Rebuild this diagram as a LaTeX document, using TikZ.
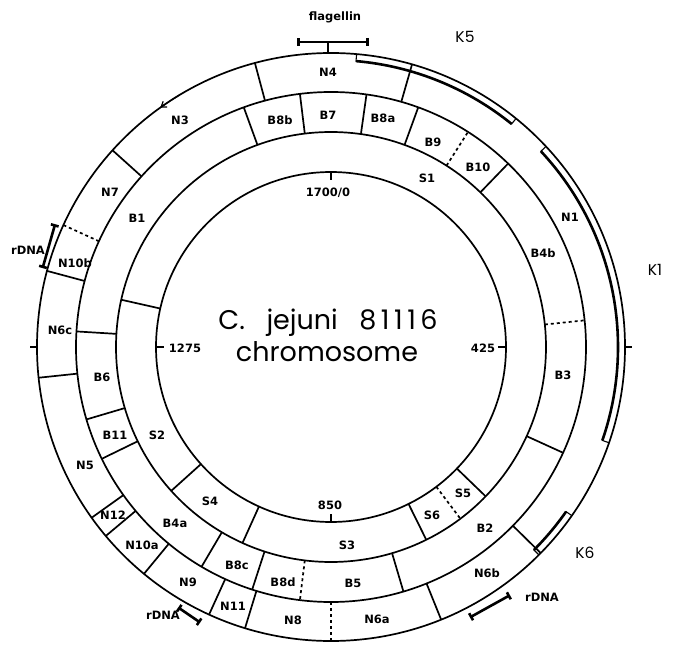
\documentclass[tikz,border=0pt]{standalone}
\usepackage{fontspec}
\setmainfont{DejaVu Sans}
\newfontfamily\titlefont{Poppins}
\usetikzlibrary{arrows.meta}

\begin{document}
\begin{tikzpicture}[x=1pt, y=1pt, line width=1.7pt,
    every node/.style={font=\bfseries\fontsize{11.5}{13}\selectfont, inner sep=0pt},
    gap/.style={dash pattern=on 3pt off 3pt},
    band/.style={line width=1.1pt},
    bandedge/.style={line width=2.6pt},
    bracket/.style={line width=2.6pt, {Bar[width=8pt]}-{Bar[width=8pt]}},
    title/.style={font=\titlefont\fontsize{27}{31}\selectfont},
    klabel/.style={font=\titlefont\fontsize{15.5}{18}\selectfont}]

  \useasboundingbox (-331,-298) rectangle (346,347);

  % the four rings
  \draw (0,0) circle[radius=175];
  \draw (0,0) circle[radius=215];
  \draw (0,0) circle[radius=255];
  \draw (0,0) circle[radius=294];

  % fragment boundaries, outer ring
  \foreach \a in {105,74,-44.5,-68,-107,-114.5,-129.5,-140,-144.5,-174,165,138}
    \draw (\a:255) -- (\a:294);
  \foreach \a in {155.5,-90}
    \draw[gap] (\a:255) -- (\a:294);
  % middle ring
  \foreach \a in {110,97,82,70,46,-24.5,-73.5,-108,-120.5,-154,-163.5,176.5}
    \draw (\a:215) -- (\a:255);
  \foreach \a in {57.5,6,-97}
    \draw[gap] (\a:215) -- (\a:255);
  % inner ring
  \foreach \a in {167.3,-44,-63.7,-114.3,-138}
    \draw (\a:175) -- (\a:215);
  \draw[gap] (-53:175) -- (-53:215);

  % scale ticks
  \foreach \a in {0,90,180,270}
    \draw (\a:175) -- (\a:167);
  \draw (0:294) -- (0:301);
  \draw (180:294) -- (180:301);

  % K bands
  \draw[band] (85:294) -- (85:287) arc[start angle=85, end angle=51, radius=287] -- (51:294);
  \draw[bandedge] (85:287) arc[start angle=85, end angle=51, radius=287];
  \draw[band] (43:294) -- (43:287) arc[start angle=43, end angle=-19, radius=287] -- (-19:294);
  \draw[bandedge] (43:287) arc[start angle=43, end angle=-19, radius=287];
  \draw[band] (-35:294) -- (-35:287) arc[start angle=-35, end angle=-45, radius=287] -- (-45:294);
  \draw[bandedge] (-35:287) arc[start angle=-35, end angle=-45, radius=287];

  % direction mark
  \draw[-{Straight Barb[length=5pt, width=7pt]}, line width=1.2pt] (121:294) arc[start angle=121, end angle=125.5, radius=294];

  % gene brackets
  \draw[bracket] (-34,305) -- (38,305);
  \draw[line width=2.4pt] (-3,305) -- (-3,294);
  \draw[bracket] (156:302) -- (164.7:299);
  \draw[bracket] (-120.4:302) -- (-115.4:305);
  \draw[bracket] (-62.8:304) -- (-54.2:306);

  % outer ring labels
  \node (n4)   at (-3,275)    {N4};
  \node (n3)   at (-151,227)  {N3};
  \node (n7)   at (-221,155)  {N7};
  \node (n10b) at (-256,84)   {N10b};
  \node (n6c)  at (-271,17)   {N6c};
  \node (n5)   at (-246,-118) {N5};
  \node (n12)  at (-218,-168) {N12};
  \node (n10a) at (-189,-198) {N10a};
  \node (n9)   at (-143,-235) {N9};
  \node (n11)  at (-98,-259)  {N11};
  \node (n8)   at (-38,-273)  {N8};
  \node (n6a)  at (46,-272)   {N6a};
  \node (n6b)  at (156,-226)  {N6b};
  \node (n1)   at (239,130)   {N1};

  % middle ring labels
  \node (b8b) at (-51,227)   {B8b};
  \node (b7)  at (-3,232)    {B7};
  \node (b8a) at (52,229)    {B8a};
  \node (b9)  at (102,205)   {B9};
  \node (b10) at (147,180)   {B10};
  \node (b4b) at (212,94)    {B4b};
  \node (b3)  at (232,-28)   {B3};
  \node (b2)  at (154,-181)  {B2};
  \node (b5)  at (22,-236)   {B5};
  \node (b8d) at (-48,-235)  {B8d};
  \node (b8c) at (-94,-218)  {B8c};
  \node (b4a) at (-156,-176) {B4a};
  \node (b11) at (-216,-88)  {B11};
  \node (b6)  at (-229,-30)  {B6};
  \node (b1)  at (-194,129)  {B1};

  % inner ring labels
  \node (s1) at (96,169)    {S1};
  \node (s2) at (-174,-88)  {S2};
  \node (s4) at (-121,-154) {S4};
  \node (s3) at (16,-198)   {S3};
  \node (s6) at (101,-168)  {S6};
  \node (s5) at (132,-146)  {S5};

  % scale
  \node (k0)    at (-3,154)   {1700/0};
  \node (k425)  at (152,-1)   {425};
  \node (k1275) at (-146,-1)  {1275};
  \node (k850)  at (-1,-158)  {850};

  \node[title] (name) at (-3,24) {C.\hspace{0.8em}jejuni\hspace{0.8em}8\,1\,1\,1\,6};
  \node[title] (chr)  at (-4,-5) {chromosome};

  \node[klabel] (k5) at (134,310) {K5};
  \node[klabel] (k1) at (324,77)  {K1};
  \node[klabel] (k6) at (254,-206) {K6};

  \node (flag)  at (4,330)     {flagellin};
  \node (rdna1) at (-303,97)   {rDNA};
  \node (rdna2) at (-168,-268) {rDNA};
  \node (rdna3) at (211,-250)  {rDNA};
\end{tikzpicture}
\end{document}
